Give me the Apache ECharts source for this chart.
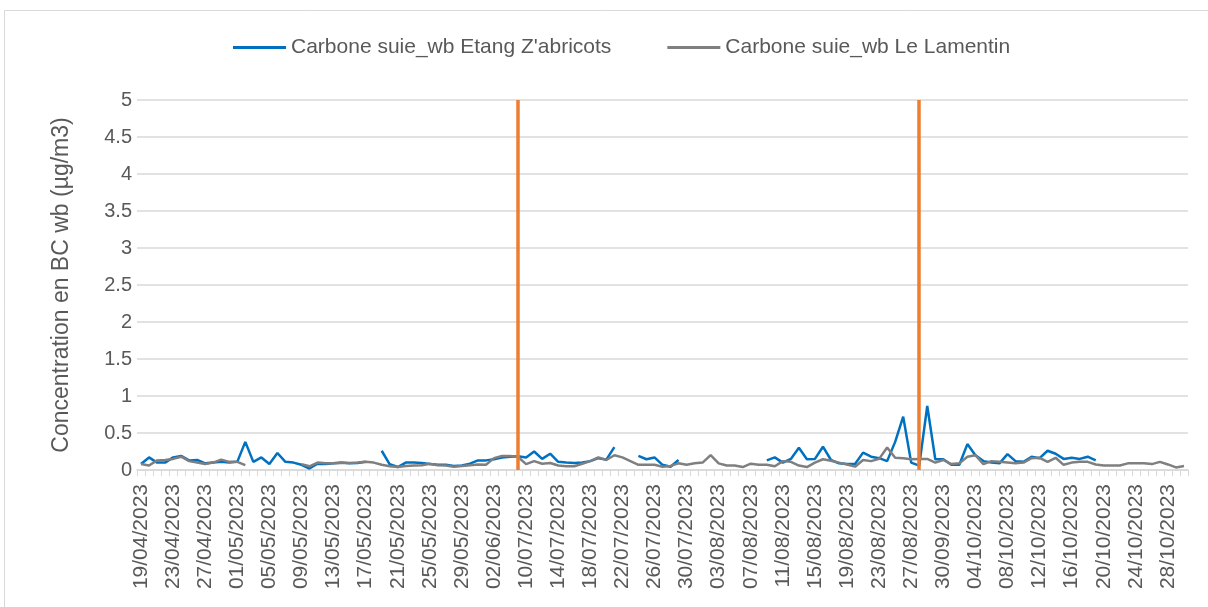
<!DOCTYPE html>
<html style="height:100%;">
<head>
    <meta charset="utf-8">
    <title>Carbone suie wb</title>
    <script src="https://cdn.jsdelivr.net/npm/echarts@6/dist/echarts.min.js"></script>
</head>
<body style="height: 100%; margin: 0; background: #fff;">
    <div id="main" style="width: 1208px; height: 607px;"></div>
    <script type="text/javascript">
    // périodes de mesure (dates continues dans chaque période)
    var periodes = [['2023-04-19', '2023-06-04'], ['2023-07-09', '2023-08-28'], ['2023-09-28', '2023-10-30']];
    // index des traits verticaux (09/07/2023 et 28/08/2023)
    var repereIdx = [47, 97];

    var etangZabricots = [
        0.08, 0.17, 0.10, 0.10, 0.17, 0.19, 0.13, 0.135, 0.09, 0.10,
        0.11, 0.10, 0.11, 0.38, 0.11, 0.17, 0.08, 0.23, 0.11, 0.10,
        0.07, 0.02, 0.085, 0.08, 0.09, 0.10, 0.09, 0.095, 0.11, null,
        0.26, 0.077, 0.04, 0.10, 0.10, 0.095, 0.08, 0.07, 0.07, 0.055,
        0.06, 0.085, 0.13, 0.13, 0.145, 0.17, 0.18, 0.185, 0.17, 0.25,
        0.15, 0.22, 0.11, 0.10, 0.095, 0.10, 0.12, 0.16, 0.14, 0.31,
        null, null, 0.19, 0.145, 0.17, 0.07, 0.045, 0.135, null, null,
        null, null, null, null, null, null, null, null, 0.13, 0.17,
        0.10, 0.15, 0.30, 0.145, 0.15, 0.315, 0.135, 0.09, 0.08, 0.08,
        0.235, 0.18, 0.16, 0.12, 0.38, 0.72, 0.10, 0.06, 0.865, 0.145,
        0.145, 0.07, 0.07, 0.35, 0.20, 0.12, 0.10, 0.09, 0.215, 0.12,
        0.11, 0.18, 0.16, 0.26, 0.22, 0.15, 0.165, 0.15, 0.18, 0.13,
        null, null, null, null, null, null, null, null, null, null,
        null
    ];

    var leLamentin = [
        0.08, 0.06, 0.13, 0.135, 0.15, 0.18, 0.12, 0.10, 0.08, 0.10,
        0.14, 0.11, 0.11, 0.065, null, null, null, null, null, null,
        0.08, 0.05, 0.10, 0.09, 0.09, 0.095, 0.095, 0.10, 0.11, 0.10,
        0.07, 0.05, 0.04, 0.055, 0.06, 0.065, 0.085, 0.065, 0.06, 0.045,
        0.055, 0.065, 0.075, 0.07, 0.16, 0.19, 0.19, 0.175, 0.08, 0.12,
        0.085, 0.095, 0.06, 0.05, 0.05, 0.085, 0.12, 0.17, 0.135, 0.20,
        0.17, 0.12, 0.07, 0.07, 0.07, 0.045, 0.055, 0.09, 0.07, 0.09,
        0.10, 0.20, 0.09, 0.06, 0.06, 0.04, 0.085, 0.07, 0.07, 0.05,
        0.12, 0.11, 0.06, 0.04, 0.10, 0.145, 0.125, 0.10, 0.075, 0.045,
        0.135, 0.12, 0.15, 0.305, 0.165, 0.16, 0.145, 0.15, 0.15, 0.10,
        0.135, 0.08, 0.09, 0.18, 0.20, 0.08, 0.12, 0.11, 0.10, 0.09,
        0.10, 0.16, 0.165, 0.11, 0.165, 0.07, 0.10, 0.11, 0.11, 0.075,
        0.06, 0.06, 0.06, 0.09, 0.09, 0.09, 0.08, 0.11, 0.075, 0.035,
        0.055
    ];

    function pad(n) { return (n < 10 ? '0' : '') + n; }
    var dates = [];
    periodes.forEach(function (p) {
        var d = new Date(p[0] + 'T00:00:00Z');
        var fin = new Date(p[1] + 'T00:00:00Z');
        while (d <= fin) {
            dates.push(pad(d.getUTCDate()) + '/' + pad(d.getUTCMonth() + 1) + '/' + d.getUTCFullYear());
            d.setUTCDate(d.getUTCDate() + 1);
        }
    });

    var police = 'Liberation Sans, Arial, sans-serif';
    var myChart = echarts.init(document.getElementById('main'));
    myChart.setOption({
        animation: false,
        textStyle: { fontFamily: police },
        graphic: [{
            type: 'rect',
            shape: { x: 4.5, y: 10.5, width: 1220, height: 620 },
            style: { fill: 'none', stroke: '#d9d9d9', lineWidth: 1 }
        }],
        legend: {
            top: 32,
            left: 228,
            icon: 'rect',
            itemWidth: 53,
            itemHeight: 3,
            itemGap: 56,
            textStyle: { fontSize: 21, color: '#595959', fontFamily: police },
            data: ['Carbone suie_wb Etang Z\'abricots', 'Carbone suie_wb Le Lamentin']
        },
        grid: { left: 137, right: 20, top: 100, bottom: 137 },
        xAxis: {
            type: 'category',
            data: dates,
            boundaryGap: true,
            axisLine: { lineStyle: { color: '#d9d9d9', width: 1.5 } },
            axisTick: { show: true, interval: 0, length: 6, lineStyle: { color: '#d9d9d9' } },
            axisLabel: {
                interval: 3,
                rotate: 90,
                margin: 14,
                fontSize: 21,
                color: '#595959',
                fontFamily: police
            },
            splitLine: { show: false }
        },
        yAxis: {
            type: 'value',
            min: 0,
            max: 5,
            interval: 0.5,
            name: 'Concentration en BC wb (µg/m3)',
            nameLocation: 'middle',
            nameGap: 64,
            nameTextStyle: { fontSize: 23, color: '#595959', fontFamily: police },
            axisLine: { show: false },
            axisTick: { show: false },
            axisLabel: { fontSize: 20, color: '#595959', margin: 5, fontFamily: police },
            splitLine: { lineStyle: { color: '#d9d9d9', width: 1.5 } }
        },
        series: [{
            name: 'Carbone suie_wb Etang Z\'abricots',
            type: 'line',
            data: etangZabricots,
            showSymbol: false,
            connectNulls: false,
            color: '#0070c0',
            lineStyle: { width: 2.5, color: '#0070c0' },
            markLine: {
                silent: true,
                symbol: 'none',
                label: { show: false },
                lineStyle: { color: '#ed7d31', width: 3.5, type: 'solid' },
                data: repereIdx.map(function (i) { return { xAxis: i }; })
            }
        }, {
            name: 'Carbone suie_wb Le Lamentin',
            type: 'line',
            data: leLamentin,
            showSymbol: false,
            connectNulls: false,
            color: '#7f7f7f',
            lineStyle: { width: 2.5, color: '#7f7f7f' }
        }]
    });
    </script>
</body>
</html>
